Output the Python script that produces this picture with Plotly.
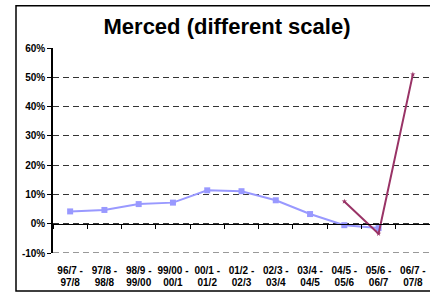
import plotly.graph_objects as go

categories = ["96/7 - 97/8", "97/8 - 98/8", "98/9 - 99/00", "99/00 - 00/1",
              "00/1 - 01/2", "01/2 - 02/3", "02/3 - 03/4", "03/4 - 04/5",
              "04/5 - 05/6", "05/6 - 06/7", "06/7 - 07/8"]
label_line1 = ["96/7 -", "97/8 -", "98/9 -", "99/00 -", "00/1 -", "01/2 -",
               "02/3 -", "03/4 -", "04/5 -", "05/6 -", "06/7 -"]
label_line2 = ["97/8", "98/8", "99/00", "00/1", "01/2", "02/3",
               "03/4", "04/5", "05/6", "06/7", "07/8"]
series_a = [4.2, 4.7, 6.7, 7.2, 11.4, 11.1, 8.0, 3.3, -0.5, -1.5, None]
series_b = [None, None, None, None, None, None, None, None, 7.6, -3.4, 51.0]
y_ticks = [-10, 0, 10, 20, 30, 40, 50, 60]
y_labels = [f"{v}%" for v in y_ticks]

fig = go.Figure()
fig.add_trace(go.Scatter(x=categories, y=series_a, mode="lines+markers",
                         line=dict(color="#9999FF", width=2),
                         marker=dict(symbol="square", size=6, color="#9999FF"),
                         connectgaps=False, showlegend=False))
fig.add_trace(go.Scatter(x=categories, y=series_b, mode="lines+markers",
                         line=dict(color="#993366", width=2),
                         marker=dict(symbol="star", size=4, color="#993366"),
                         connectgaps=False, showlegend=False))
# helper traces for the extra category axes
for ax in ("x2", "x3"):
    fig.add_trace(go.Scatter(x=categories, y=[None]*len(categories), xaxis=ax,
                             mode="lines", showlegend=False, hoverinfo="skip"))

font_fam = "Liberation Sans, Arial, sans-serif"
tickfont = dict(family=font_fam, size=10, color="black", weight="bold")
fig.update_layout(
    width=430, height=295,
    margin=dict(l=53, r=0, t=48, b=42),
    paper_bgcolor="white", plot_bgcolor="white",
    title=dict(text="Merced (different scale)", x=227/430, xanchor="center",
               y=1-26/295, yanchor="middle",
               font=dict(family=font_fam, size=22, color="black", weight="bold")),
    xaxis=dict(type="category", categoryarray=categories, range=[-0.5, 10.5],
               tickvals=categories, ticktext=label_line1,
               showgrid=False, showline=False, ticks="", zeroline=False,
               ticklabelstandoff=10, automargin=False, tickfont=tickfont),
    xaxis3=dict(type="category", categoryarray=categories, range=[-0.5, 10.5],
                tickvals=categories, ticktext=label_line2,
                overlaying="x", anchor="y", side="bottom",
                showgrid=False, showline=False, ticks="", zeroline=False,
                ticklabelstandoff=22, automargin=False, tickfont=tickfont),
    xaxis2=dict(type="category", categoryarray=categories, range=[-0.5, 10.5],
                overlaying="x", anchor="free", position=1/7,
                showgrid=False, showline=True, linecolor="black", linewidth=1,
                ticks="outside", ticklen=4, tickcolor="black", tickson="boundaries",
                showticklabels=False, zeroline=False),
    yaxis=dict(range=[-10, 60], tickvals=y_ticks, ticktext=y_labels,
               showgrid=True, gridcolor="#333333", gridwidth=1, griddash="6px,4px",
               showline=True, linecolor="black", linewidth=1.5,
               ticks="outside", ticklen=4, tickcolor="black",
               zeroline=False, automargin=False, tickfont=tickfont),
    shapes=[
        dict(type="line", xref="paper", yref="y", x0=0, x1=1, y0=-10, y1=-10,
             line=dict(color="#999999", width=2, dash="6px,4px")),
        dict(type="rect", xref="paper", yref="paper", x0=-37/377, x1=1.05,
             y0=-38/204.6, y1=246.7/204.6, line=dict(color="black", width=1.5)),
    ],
)
fig.write_html("out.html", config={"displayModeBar": False},
               post_script="document.body.style.margin='0';")
